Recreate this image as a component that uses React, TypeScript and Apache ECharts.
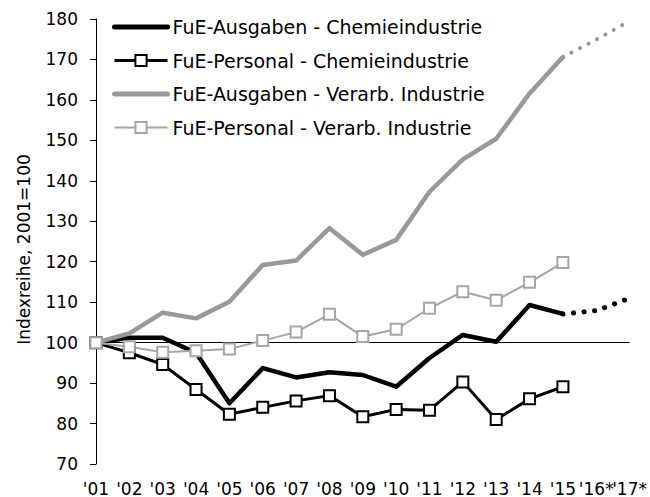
import React, { useEffect, useRef } from "react";
import * as echarts from "echarts";

const categories = ["'01", "'02", "'03", "'04", "'05", "'06", "'07", "'08", "'09", "'10", "'11", "'12", "'13", "'14", "'15", "'16*", "'17*"];

const ausgabenChemie = [100, 101.2, 101.2, 97.5, 85.0, 93.7, 91.4, 92.7, 92.0, 89.1, 96.2, 101.9, 100.2, 109.3, 107.1, null, null];
const ausgabenChemieProg = [null, null, null, null, null, null, null, null, null, null, null, null, null, null, 107.1, 107.9, 111.0];
const personalChemie = [100, 97.5, 94.6, 88.4, 82.3, 84.0, 85.6, 86.9, 81.7, 83.5, 83.3, 90.3, 81.0, 86.1, 89.1, null, null];
const ausgabenVerarb = [100, 102.3, 107.4, 106.0, 110.1, 119.2, 120.3, 128.3, 121.7, 125.4, 137.3, 145.3, 150.4, 161.6, 170.6, null, null];
const ausgabenVerarbProg = [null, null, null, null, null, null, null, null, null, null, null, null, null, null, 170.6, 174.9, 179.5];
const personalVerarb = [100, 99.0, 97.6, 98.0, 98.4, 100.5, 102.6, 107.0, 101.5, 103.3, 108.5, 112.6, 110.5, 114.9, 119.8, null, null];

const seriesNames = [
  "FuE-Ausgaben - Chemieindustrie",
  "FuE-Personal - Chemieindustrie",
  "FuE-Ausgaben - Verarb. Industrie",
  "FuE-Personal - Verarb. Industrie",
];

const yTicks = { min: 70, max: 180, interval: 10 };
const baseline = 100;

const FONT = "DejaVu Sans";
const BLACK = "#000000";
const GRAY = "#999999";
const LIGHT = "#a6a6a6";

export default function App() {
  const ref = useRef<HTMLDivElement>(null);
  useEffect(() => {
    document.body.style.margin = "0";
    const chart = echarts.init(ref.current!, null, { renderer: "svg" });
    chart.setOption({
      animation: false,
      textStyle: { fontFamily: FONT },
      grid: { left: 96, right: 16, top: 19, bottom: 33, containLabel: false },
      legend: {
        data: [
          { name: seriesNames[0], itemStyle: { opacity: 0 }, lineStyle: { width: 5, color: BLACK, cap: "round" } },
          { name: seriesNames[1], lineStyle: { width: 3, color: BLACK } },
          { name: seriesNames[2], itemStyle: { opacity: 0 }, lineStyle: { width: 5, color: GRAY, cap: "round" } },
          { name: seriesNames[3], lineStyle: { width: 2, color: LIGHT } },
        ],
        orient: "vertical",
        left: 107,
        top: 12,
        itemWidth: 53,
        itemHeight: 14,
        itemGap: 13.5,
        textStyle: { fontFamily: FONT, fontSize: 19, color: BLACK, lineHeight: 20 },
      },
      xAxis: {
        type: "category",
        data: categories,
        boundaryGap: false,
        axisLine: { show: false },
        axisTick: { show: false },
        axisLabel: { interval: 0, fontFamily: FONT, fontSize: 17, color: BLACK, margin: 16 },
      },
      yAxis: {
        type: "value",
        min: yTicks.min,
        max: yTicks.max,
        interval: yTicks.interval,
        name: "Indexreihe, 2001=100",
        nameLocation: "middle",
        nameGap: 64,
        nameTextStyle: { fontFamily: FONT, fontSize: 17, color: BLACK, padding: [0, 16, 0, 0] },
        axisLine: { show: true, lineStyle: { color: BLACK, width: 1 } },
        axisTick: { show: true, length: 6, lineStyle: { color: BLACK, width: 1 } },
        splitLine: { show: false },
        axisLabel: { fontFamily: FONT, fontSize: 17, color: BLACK, margin: 18 },
      },
      series: [
        {
          name: seriesNames[0],
          type: "line",
          data: ausgabenChemie,
          symbol: "none",
          lineStyle: { color: BLACK, width: 4.5, cap: "round", join: "round" },
          itemStyle: { color: BLACK },
          markLine: {
            silent: true,
            symbol: "none",
            label: { show: false },
            lineStyle: { color: BLACK, width: 1, type: "solid" },
            data: [{ yAxis: baseline }],
            z: 1,
          },
          z: 2,
        },
        {
          name: "prog1",
          type: "line",
          data: ausgabenChemieProg,
          symbol: "none",
          lineStyle: { color: BLACK, width: 5, type: [0.1, 10.5], cap: "round" },
          z: 2,
        },
        {
          name: seriesNames[1],
          type: "line",
          data: personalChemie,
          symbol: "rect",
          symbolSize: 11,
          showSymbol: true,
          lineStyle: { color: BLACK, width: 3, join: "round" },
          itemStyle: { color: "#ffffff", borderColor: BLACK, borderWidth: 2 },
          z: 3,
        },
        {
          name: seriesNames[2],
          type: "line",
          data: ausgabenVerarb,
          symbol: "none",
          lineStyle: { color: GRAY, width: 4.5, cap: "round", join: "round" },
          itemStyle: { color: GRAY },
          z: 4,
        },
        {
          name: "prog3",
          type: "line",
          data: ausgabenVerarbProg,
          symbol: "none",
          lineStyle: { color: GRAY, width: 4, type: [0.1, 9.5], cap: "round" },
          z: 4,
        },
        {
          name: seriesNames[3],
          type: "line",
          data: personalVerarb,
          symbol: "rect",
          symbolSize: 11,
          showSymbol: true,
          lineStyle: { color: LIGHT, width: 2, join: "round" },
          itemStyle: { color: "#ffffff", borderColor: LIGHT, borderWidth: 2 },
          z: 5,
        },
      ],
    });
    return () => chart.dispose();
  }, []);
  return <div ref={ref} style={{ width: 650, height: 497 }} />;
}
